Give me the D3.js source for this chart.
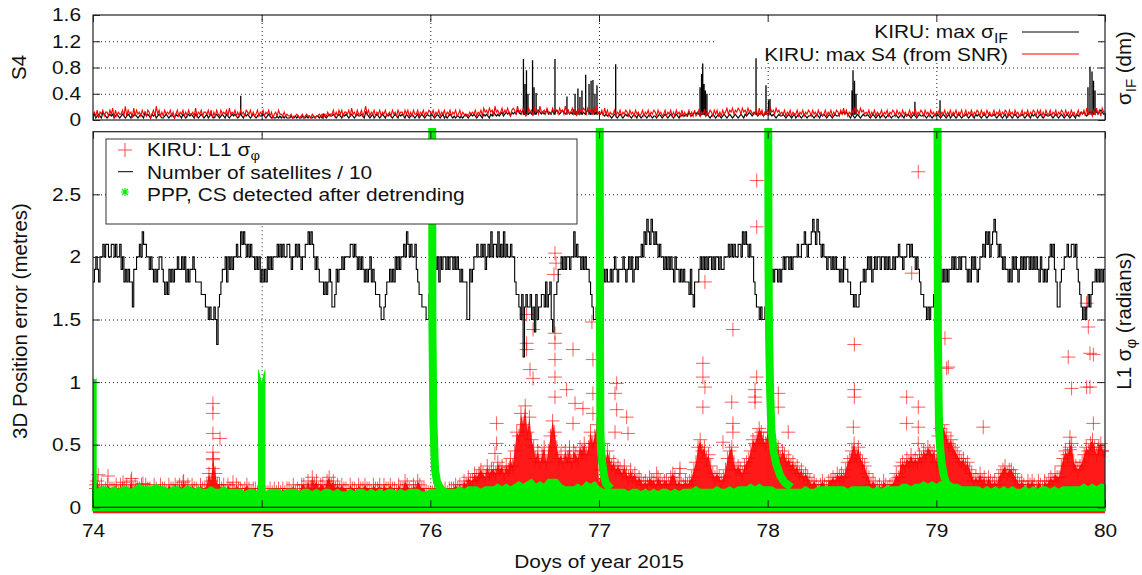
<!DOCTYPE html>
<html>
<head>
<meta charset="utf-8">
<script src="https://cdn.jsdelivr.net/npm/d3@7"></script>
<style>
  body { margin: 0; background: #fff; }
  text { font-family: "Liberation Sans", Arial, Helvetica, sans-serif; fill: #111; }
</style>
</head>
<body>
<div id="chart"></div>
<script>
// ---- data ----
const days = [74, 75, 76, 77, 78, 79];
const xTicks = [74, 75, 76, 77, 78, 79, 80];
const topTicks = [0, 0.4, 0.8, 1.2, 1.6];
const botTicks = [0, 0.5, 1, 1.5, 2, 2.5];

// number of satellites - 10, one char per 12 min (base36)
const satCount = [
  "89a98aabab baabbabaab 9a89898869 9aabacbbaa 9a98989aa9 8787989899 a99a9a8989 9a98888777 6656556536 7899a8a9a9 aabaacbcba babaa9a9a8",
  "9898a9a9aa abababaabb a9aababa9a abbcbcba9a 9888787898 6679899a9a aaabbaba9a 9a98989a89 8777655678 89898a9a9a abacbabaab 9877666557",
  "889a9a8a9a a9a9aa9a9a 9898885598 9aabaabab9 abacabbaca bacabaabaa 8776572676 6756475667 7686785477 899a9a9aa9 aacabaa9a9 a998765566",
  "6789898898 9a98999a98 9a9a89a9aa bacbdcbdcb cbabaa9a9a 9a98a99898 9888797688 89a9a9a9aa 9a9aa9a99a aabababaab bacbcbabaa 8766565567",
  "6789899898 9a9aa9a9aa abaabbcbab bcdcbdcbab aa9aa9a9a9 9898a99887 7676678898 9a9a89a9aa 9aa9a9a99a 9aabaa9aab babaa9a987 7665656677",
  "7889898989 9a9a99a9aa a9898a9a98 9aabacbcab cdcbaba9a9 9898a9a989 a9a9aa9a9a 9a98a98989 abab986689 9aabaabbab 9876565676 7889898989"
];

// max S4 (red), units of 0.03, one char per 12 min
const s4Red = [
  "3425143524 4253615243 3527253416 2534253425 4135273524 2534352413 5243524253 3426243524 4352514253 2534352634 3524253425 4352423524",
  "3524352413 4253324232 2312232123 1232213212 2323132423 3524253524 4352634253 3524735243 5243524352 3425342534 4253524253 3524352435",
  "4352435243 5243524352 3524323243 4352435264 5364527453 4635463256 5374536423 6452645374 4536433645 5364537453 4635263546 5364536473",
  "4352635243 3524352435 4253425342 3524352435 4253423524 3524253425 2423524252 3524352435 4253524253 4635463546 5364536453 4352635243",
  "5364536453 4352435243 3524352435 4253425342 3524352435 4253635243 5364536453 4352435243 3524352435 4253425342 3524362435 4253425342",
  "4352435243 5243524352 3524352435 4253425342 3524352435 4253425342 3524352435 4253524253 3524352435 4253425342 3524352635 4253635264"
];

// max sigma IF (black), units of 0.03, one char per 12 min
const sigmaIF = [
  "2312321432 1232312321 2321232132 3212321423 2132312321 1232123213 2321321232 3213212321 2312321232 1232132123 2321232132 3212321232",
  "2321232121 1212121211 1211212112 1121211212 2121321232 2321232132 3212321232 2321432123 1232123213 2321232132 3213212321 2312321232",
  "2321232123 1212321212 2121232123 2321232132 3213243232 3423434243 4354345343 3435434543 4345343534 5434543453 4353453434 3454345343",
  "4343232321 2321232123 2321232132 1232123212 2123212321 2321232132 3232432343 4323432321 2321232123 2123212321 2321323432 3432343234",
  "3432321232 2321232123 1232123212 2321232132 3212321232 2343434321 3212321232 2321232123 1232123212 2321232132 3212321232 2321232123",
  "2321232123 1232123212 2321232132 3212321232 2321232123 1232123212 2321232132 3212321232 2321232123 2123212321 3234343234 4345434543"
];
const sigmaSpikes = [
  [74.876, 0.37], [76.552, 0.93], [76.561, 0.55], [76.570, 0.76], [76.579, 0.40],
  [76.606, 0.91], [76.615, 0.50], [76.627, 0.41], [76.739, 0.93], [76.810, 0.36],
  [76.858, 0.40], [76.875, 0.48], [76.887, 0.35], [76.899, 0.45], [76.921, 0.69],
  [76.941, 0.55], [76.953, 0.60], [76.964, 0.61], [76.976, 0.40], [76.988, 0.53],
  [77.099, 0.85], [77.599, 0.50], [77.608, 0.70], [77.615, 0.86], [77.623, 0.55],
  [77.631, 0.45], [77.640, 0.40], [77.931, 0.94], [77.990, 0.53], [78.005, 0.30],
  [78.014, 0.32], [78.500, 0.45], [78.506, 0.76], [78.515, 0.60], [78.524, 0.40],
  [78.873, 0.28], [79.022, 0.30], [79.899, 0.50], [79.911, 0.81], [79.923, 0.74],
  [79.932, 0.60], [79.941, 0.45]
];

// top of the dense L1 sigma-phi band (red), units of 0.03, one char per 18 min
const redTop = [
  "6575645655 5646556475 6556465546 5465546556 5657564655 4655697d96 6564655465 5456545543",
  "3444545454 5455464546 6575867566 5786756565 5465546556 5546556465 5655465576 5465765544",
  "4455454545 5565657687 7989a98b9a a9cab9badb fkjpmrkoig dfcegcfjnk gdecfdgcfe dgfhegkhjm",
  "6ahcfdbcab a9b98a8978 7676877687 6776898676 67678acgif gdeb989878 adfgcaba9b cdfihjlkih",
  "kighfgdfec dbcab9a898 7676567657 7879898acd fhegdcb986 7656576566 798bcbdcec dcedfegfef",
  "cjlmkjhigf edcdbca978 7978687676 89ab9aa987 6765767657 6576787988 bdfeghcbab cegfhigeghf"
];
const redOutliers = [
  [74.031, 0.26], [74.089, 0.25], [74.178, 0.20], [74.229, 0.23], [74.296, 0.19], [74.534, 0.20],
  [74.711, 0.83], [74.711, 0.75], [74.711, 0.59], [74.711, 0.44], [74.711, 0.38], [74.711, 0.31],
  [74.711, 0.24], [74.753, 0.55], [74.830, 0.20],
  [76.294, 0.27], [76.383, 0.43], [76.393, 0.67], [76.393, 0.51], [76.472, 0.32],
  [76.571, 1.54], [76.571, 1.31], [76.571, 1.26], [76.591, 1.10], [76.609, 1.42], [76.609, 1.03],
  [76.733, 1.86], [76.739, 2.03], [76.745, 1.95], [76.739, 1.39], [76.739, 1.31], [76.739, 1.18],
  [76.739, 1.04], [76.739, 0.88], [76.808, 0.94], [76.846, 1.26], [76.846, 0.67], [76.858, 0.83],
  [76.905, 0.79], [76.958, 1.48], [76.964, 1.18], [76.964, 0.91], [76.964, 0.75],
  [77.095, 0.91], [77.095, 0.60], [77.105, 0.99], [77.105, 0.78], [77.164, 0.72], [77.172, 0.59],
  [77.342, 0.27], [77.480, 0.31], [77.480, 0.27], [77.616, 1.15], [77.616, 1.04], [77.616, 0.80],
  [77.628, 1.80], [77.628, 0.96], [77.735, 0.52], [77.787, 0.84], [77.794, 1.42], [77.794, 0.67],
  [77.794, 0.60], [77.925, 0.94], [77.925, 0.88], [77.925, 0.84], [77.935, 2.61], [77.935, 2.24],
  [77.935, 1.04],
  [78.063, 0.91], [78.063, 0.80], [78.122, 0.60], [78.508, 0.64], [78.514, 1.30], [78.514, 0.94],
  [78.514, 0.88], [78.824, 0.88], [78.824, 0.67], [78.854, 1.87], [78.893, 2.68], [78.893, 0.80],
  [78.893, 0.64], [78.893, 0.51],
  [79.051, 1.35], [79.061, 1.11], [79.071, 1.12], [79.278, 0.64], [79.782, 1.20], [79.792, 0.56],
  [79.792, 0.46], [79.802, 0.95], [79.891, 1.63], [79.891, 0.96], [79.901, 1.44], [79.911, 1.23],
  [79.911, 0.96], [79.931, 1.22], [79.931, 0.67], [79.958, 0.46]
];

// top of the PPP error band (green), units of 0.02, one char per 36 min
const greenTop = [
  "8788787887 8988898878 8788787787 7877776776",
  "7677767776 7767677676 6767767676 7767677766",
  "7778777878 8878889898 9a9ab9a9bb b988898a9a",
  "8777777677 6767677676 7778777787 7878889898",
  "8877777778 7788888887 8888878788 8899899a9a",
  "9a9a998888 8787878787 7878788787 8888898989"
];
const greenSpikes = [
  [[74.0, 1.03], [74.012, 1.02], [74.022, 1.03]],
  [[74.978, 1.11], [74.99, 1.06], [75.0, 1.0], [75.01, 1.06], [75.022, 1.11]]
];
// reconvergence after daily restarts
const reconv = [
  [[76.011, 3.2], [76.012, 1.5], [76.018, 0.7], [76.025, 0.4], [76.028, 0.3], [76.04, 0.2], [76.06, 0.15]],
  [[77.004, 3.2], [77.006, 1.4], [77.008, 0.62], [77.012, 0.45], [77.02, 0.35], [77.03, 0.25], [77.041, 0.19], [77.07, 0.15]],
  [[78.003, 3.2], [78.005, 2.0], [78.008, 1.4], [78.015, 0.9], [78.022, 0.62], [78.035, 0.45], [78.05, 0.35], [78.075, 0.25], [78.1, 0.2], [78.14, 0.16]],
  [[79.007, 3.2], [79.009, 1.42], [79.016, 0.62], [79.024, 0.45], [79.032, 0.35], [79.045, 0.25], [79.06, 0.19], [79.09, 0.15]]
];

// ---- helpers ----
function unpack(strs, step, base) {
  const pts = [];
  strs.forEach((s, k) => {
    s = s.replace(/\s/g, "");
    for (let i = 0; i < s.length; i++) pts.push([days[k] + i / s.length, base + parseInt(s[i], 36) * step]);
  });
  pts.push([80, pts[pts.length - 1][1]]);
  return pts;
}

const W = 1142, H = 575;
const X0 = 93, X1 = 1105;
const FS = 18.5, SX = 1.13;
const RED = "#ff0000", GREEN = "#00ee00";

const svg = d3.select("#chart").append("svg").attr("width", W).attr("height", H);

const x = d3.scaleLinear().domain([74, 80]).range([X0, X1]);
const yTop = d3.scaleLinear().domain([0, 1.6]).range([120, 15]);
const yBot = d3.scaleLinear().domain([0, 3]).range([507.3, 131.7]);

const defs = svg.append("defs");
defs.append("clipPath").attr("id", "clipTop").append("rect")
  .attr("x", X0).attr("y", 15).attr("width", X1 - X0).attr("height", 105);
defs.append("clipPath").attr("id", "clipBot").append("rect")
  .attr("x", X0 - 4).attr("y", 128).attr("width", X1 - X0 + 8).attr("height", 388);

function htext(g, px, py, anchor) {
  return g.append("text")
    .attr("transform", `translate(${px},${py}) scale(${SX},1)`)
    .attr("text-anchor", anchor).attr("font-size", FS);
}
function vtext(g, px, py) {
  return g.append("text")
    .attr("transform", `translate(${px},${py}) rotate(-90)`)
    .attr("text-anchor", "middle").attr("font-size", 20.5);
}
function grid(g, yScale, yVals, y0, y1) {
  g.append("g").attr("transform", `translate(${X0},0)`)
    .call(d3.axisLeft(yScale).tickValues(yVals).tickSize(-(X1 - X0)).tickFormat(""))
    .call(a => a.select(".domain").remove());
  g.append("g").attr("transform", `translate(0,${y1})`)
    .call(d3.axisBottom(x).tickValues([75, 76, 77, 78, 79]).tickSize(-(y1 - y0)).tickFormat(""))
    .call(a => a.select(".domain").remove());
  g.selectAll("line").attr("stroke", "#aaa").attr("stroke-dasharray", "1,3");
}
function frame(g, yScale, yVals, y0, y1, leftLabels, bottomLabels) {
  const fmt = d => (d === 0 ? "0" : String(d));
  const left = g.append("g").attr("transform", `translate(${X0},0)`)
    .call(d3.axisLeft(yScale).tickValues(yVals).tickSizeInner(-7).tickSizeOuter(0)
      .tickPadding(10.6).tickFormat(leftLabels ? leftLabels : ""));
  g.append("g").attr("transform", `translate(${X1},0)`)
    .call(d3.axisRight(yScale).tickValues(yVals).tickSizeInner(-7).tickSizeOuter(0).tickFormat(""));
  g.append("g").attr("transform", `translate(0,${y0})`)
    .call(d3.axisTop(x).tickValues(xTicks).tickSizeInner(-7).tickSizeOuter(0).tickFormat(""));
  const bottom = g.append("g").attr("transform", `translate(0,${y1})`)
    .call(d3.axisBottom(x).tickValues(xTicks).tickSizeInner(-7).tickSizeOuter(0)
      .tickPadding(16.6).tickFormat(bottomLabels ? fmt : ""));
  g.selectAll(".domain").remove();
  g.selectAll(".tick line").attr("stroke", "#222");
  [left, bottom].forEach(a => a.selectAll("text")
    .attr("font-size", FS).attr("fill", "#111").attr("font-family", null)
    .attr("transform", `scale(${SX},1)`));
  g.append("rect").attr("x", X0).attr("y", y0).attr("width", X1 - X0).attr("height", y1 - y0)
    .attr("fill", "none").attr("stroke", "#222").attr("stroke-width", 1.2);
}

const plusPath = "M-7,0H7M0,-7V7";
const starPath = "M-4,0H4M0,-4V4M-3,-3L3,3M-3,3L3,-3";

// ---- top panel ----
const topG = svg.append("g");
grid(topG, yTop, [0.4, 0.8, 1.2], 15, 120);

const topData = topG.append("g").attr("clip-path", "url(#clipTop)");
const lineTop = d3.line().x(d => x(d[0])).y(d => yTop(d[1]));
topData.append("path").datum(unpack(sigmaIF, 0.03, 0)).attr("d", lineTop)
  .attr("fill", "none").attr("stroke", "#000").attr("stroke-width", 1.1);
topData.append("path")
  .attr("d", sigmaSpikes.map(s => `M${x(s[0])},${yTop(0.08)}V${yTop(s[1])}`).join(""))
  .attr("fill", "none").attr("stroke", "#000").attr("stroke-width", 1.3);
topData.append("path").datum(unpack(s4Red, 0.03, 0)).attr("d", lineTop)
  .attr("fill", "none").attr("stroke", RED).attr("stroke-width", 1.1);

// opaque key
topG.append("rect").attr("x", 715).attr("y", 17).attr("width", 386).attr("height", 40).attr("fill", "#fff");
const k1 = htext(topG, 1008, 38, "end");
k1.append("tspan").text("KIRU: max σ");
k1.append("tspan").attr("font-size", 14).attr("dy", 5).text("IF");
htext(topG, 1008, 61, "end").text("KIRU: max S4 (from SNR)");
topG.append("line").attr("x1", 1022).attr("x2", 1079).attr("y1", 32).attr("y2", 32).attr("stroke", "#000");
topG.append("line").attr("x1", 1022).attr("x2", 1079).attr("y1", 54).attr("y2", 54).attr("stroke", RED);

frame(topG, yTop, topTicks, 15, 120, d => (d === 0 ? "0" : d.toFixed(1)), false);

// ---- bottom panel ----
const botG = svg.append("g");
grid(botG, yBot, [0.5, 1, 1.5, 2, 2.5], 131.7, 507.3);

const botData = botG.append("g").attr("clip-path", "url(#clipBot)");

// L1 sigma-phi (red)
const redPts = unpack(redTop, 0.03, 0);
botData.append("path").datum(redPts)
  .attr("d", d3.area().x(d => x(d[0])).y0(yBot(0) + 6).y1(d => yBot(d[1])))
  .attr("fill", RED).attr("opacity", 0.9);
botData.append("g").selectAll("path").data(redPts.concat(redOutliers)).join("path")
  .attr("transform", d => `translate(${x(d[0])},${yBot(d[1])})`)
  .attr("d", plusPath).attr("fill", "none").attr("stroke", RED).attr("stroke-width", 1).attr("opacity", 0.65);

// number of satellites / 10
botData.append("path").datum(unpack(satCount, 0.1, 1.0))
  .attr("d", d3.line().curve(d3.curveStepAfter).x(d => x(d[0])).y(d => yBot(d[1])))
  .attr("fill", "none").attr("stroke", "#000").attr("stroke-width", 1.1);

// PPP error (green)
const greenArea = d3.area().x(d => x(d[0])).y0(yBot(0) + 3).y1(d => yBot(d[1]));
botData.append("path").datum(unpack(greenTop, 0.02, 0)).attr("d", greenArea)
  .attr("fill", GREEN).attr("stroke", GREEN).attr("stroke-width", 2);
botData.append("g").selectAll("path").data(greenSpikes).join("path")
  .attr("d", greenArea).attr("fill", GREEN);
botData.append("g").selectAll("path").data(reconv).join("path")
  .attr("d", d3.line().x(d => x(d[0])).y(d => yBot(d[1])))
  .attr("fill", "none").attr("stroke", GREEN).attr("stroke-width", 8).attr("stroke-linejoin", "round");

// key
const key = botG.append("g");
key.append("rect").attr("x", 106).attr("y", 139).attr("width", 471).attr("height", 85)
  .attr("fill", "#fff").attr("stroke", "#333").attr("stroke-width", 1);
const b1 = htext(key, 147, 155.7, "start");
b1.append("tspan").text("KIRU: L1 σ");
b1.append("tspan").attr("font-size", 13).attr("dy", 4).text("φ");
htext(key, 147, 178.5, "start").text("Number of satellites / 10");
htext(key, 147, 200.5, "start").text("PPP, CS detected after detrending");
key.append("path").attr("transform", "translate(125,150)").attr("d", plusPath)
  .attr("stroke", RED).attr("stroke-width", 1).attr("opacity", 0.7);
key.append("line").attr("x1", 118).attr("x2", 133).attr("y1", 171.7).attr("y2", 171.7).attr("stroke", "#000");
key.append("path").attr("transform", "translate(125,192)").attr("d", starPath)
  .attr("stroke", GREEN).attr("stroke-width", 1.2);

frame(botG, yBot, botTicks, 131.7, 507.3, d => String(d), true);

// ---- axis titles ----
vtext(svg, 26, 67.5).text("S4");
vtext(svg, 27, 321).text("3D Position error (metres)");
const r1 = vtext(svg, 1131, 68);
r1.append("tspan").text("σ");
r1.append("tspan").attr("font-size", 15).attr("dy", 5).text("IF");
r1.append("tspan").attr("dy", -5).text(" (dm)");
const r2 = vtext(svg, 1131, 321);
r2.append("tspan").text("L1 σ");
r2.append("tspan").attr("font-size", 15).attr("dy", 5).text("φ");
r2.append("tspan").attr("dy", -5).text(" (radians)");
htext(svg, 599, 568, "middle").text("Doys of year 2015");
</script>
</body>
</html>
